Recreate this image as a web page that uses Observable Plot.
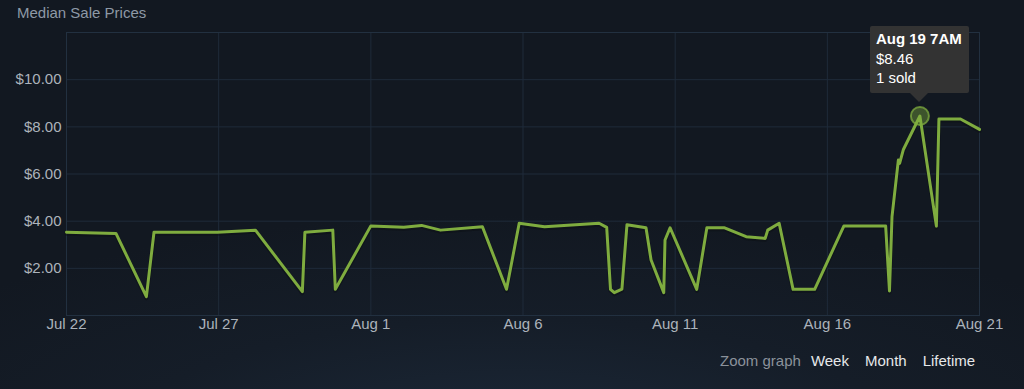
<!DOCTYPE html>
<html>
<head>
<meta charset="utf-8">
<script src="https://cdn.jsdelivr.net/npm/d3@7"></script>
<script src="https://cdn.jsdelivr.net/npm/@observablehq/plot@0.6"></script>
<style>
  html, body { margin: 0; padding: 0; }
  body {
    width: 1024px; height: 389px; overflow: hidden; position: relative;
    font-family: Arial, "Liberation Sans", sans-serif;
    background: radial-gradient(ellipse 70% 60% at 50% 115%, #1c2939 0%, #151d28 55%, #121821 100%);
  }
  #chart { position: absolute; left: 0; top: 0; }
  .title { position: absolute; left: 17px; top: 4px; font-size: 15px; color: #8e99a6; }
  .zoom { position: absolute; top: 352px; left: 720px; font-size: 15px; white-space: nowrap; }
  .zoom span { margin-right: 16px; color: #e6e8ea; }
  .zoom span.lbl { color: #8b929b; margin-right: 10px; }
  .tip {
    position: absolute; width: 99px; height: 67px; box-sizing: border-box;
    background: #333333; color: #ffffff; font-size: 15px; line-height: 19.5px;
    padding: 3px 0 0 6px; border-radius: 2px;
  }
  .tip b { font-weight: bold; }
  .tip:after {
    content: ""; position: absolute; left: 50%; bottom: -9px; margin-left: -9px;
    border-left: 9px solid transparent; border-right: 9px solid transparent; border-top: 9px solid #333333;
  }
</style>
</head>
<body>
<div id="chart"></div>
<div class="title">Median Sale Prices</div>
<div class="zoom"><span class="lbl">Zoom graph</span><span>Week</span><span>Month</span><span>Lifetime</span></div>
<script>
const dates = [
  "2019-07-22T00:00Z","2019-07-23T15:00Z","2019-07-24T15:00Z","2019-07-24T21:00Z","2019-07-26T23:00Z",
  "2019-07-28T05:00Z","2019-07-29T18:00Z","2019-07-29T20:00Z","2019-07-30T18:00Z","2019-07-30T20:00Z",
  "2019-08-01T00:00Z","2019-08-02T02:00Z","2019-08-02T16:00Z","2019-08-03T07:00Z","2019-08-04T16:00Z",
  "2019-08-05T11:00Z","2019-08-05T21:00Z","2019-08-06T17:00Z","2019-08-08T12:00Z","2019-08-08T18:00Z",
  "2019-08-08T21:00Z","2019-08-09T00:00Z","2019-08-09T06:00Z","2019-08-09T10:00Z","2019-08-10T01:00Z",
  "2019-08-10T05:00Z","2019-08-10T15:00Z","2019-08-10T16:00Z","2019-08-10T20:00Z","2019-08-11T17:00Z",
  "2019-08-12T01:00Z","2019-08-12T15:00Z","2019-08-13T08:00Z","2019-08-13T23:00Z","2019-08-14T01:00Z",
  "2019-08-14T10:00Z","2019-08-14T21:00Z","2019-08-15T14:00Z","2019-08-16T13:00Z","2019-08-17T22:00Z",
  "2019-08-18T01:00Z","2019-08-18T03:00Z","2019-08-18T08:00Z","2019-08-18T09:00Z","2019-08-18T12:00Z",
  "2019-08-19T01:00Z","2019-08-19T14:00Z","2019-08-19T16:00Z","2019-08-20T09:00Z","2019-08-21T00:00Z"
];
const prices = [
  3.53, 3.48, 0.80, 3.53, 3.53,
  3.62, 1.01, 3.53, 3.62, 1.11,
  3.80, 3.74, 3.82, 3.62, 3.76,
  1.11, 3.91, 3.76, 3.91, 3.74,
  1.11, 0.97, 1.12, 3.85, 3.72,
  2.35, 0.97, 3.20, 3.72, 1.11,
  3.72, 3.72, 3.34, 3.27, 3.62,
  3.91, 1.11, 1.11, 3.79, 3.79,
  1.04, 4.19, 6.59, 6.45, 7.04,
  8.46, 3.79, 8.33, 8.33, 7.89
];
const xTickLabels = ["2019-07-22","2019-07-27","2019-08-01","2019-08-06","2019-08-11","2019-08-16","2019-08-21"];
const yTicks = [2, 4, 6, 8, 10];
const xDomain = ["2019-07-22T00:00Z", "2019-08-21T00:00Z"];
const yDomain = [0, 12];
const highlight = { date: "2019-08-19T01:00Z", price: 8.46, label: "Aug 19 7AM", sold: "1 sold" };

const data = dates.map((d, i) => ({ date: new Date(d), price: prices[i] }));
const xTicks = xTickLabels.map(d => new Date(d + "T00:00Z"));
const hl = [{ date: new Date(highlight.date), price: highlight.price }];

const gridColor = "#1f2b3a";
const green = "#7fac3f";

const chart = Plot.plot({
  width: 1024,
  height: 389,
  marginLeft: 66,
  marginTop: 32,
  marginRight: 45,
  marginBottom: 74,
  style: { background: "transparent", fontFamily: "Arial, 'Liberation Sans', sans-serif", fontSize: "15px", color: "#acb3bb" },
  x: { type: "utc", domain: xDomain.map(d => new Date(d)), label: null },
  y: { domain: yDomain, label: null },
  marks: [
    Plot.gridY(yTicks, { stroke: gridColor, strokeOpacity: 1 }),
    Plot.gridX(xTicks, { stroke: gridColor, strokeOpacity: 1 }),
    Plot.frame({ stroke: "#223040" }),
    Plot.axisY(yTicks, { tickSize: 0, tickPadding: 5, tickFormat: d => "$" + d.toFixed(2), fill: "#acb3bb", fontSize: 15, label: null }),
    Plot.axisX(xTicks, { tickSize: 0, tickPadding: 3, tickFormat: d3.utcFormat("%b %-d"), fill: "#acb3bb", fontSize: 15, label: null }),
    Plot.line(data, { x: "date", y: "price", stroke: "#0b0f14", strokeOpacity: 0.5, strokeWidth: 4, dy: 1.5, strokeLinejoin: "round" }),
    Plot.line(data, { x: "date", y: "price", stroke: green, strokeWidth: 3, strokeLinejoin: "round", strokeLinecap: "round" }),
    Plot.dot(hl, { x: "date", y: "price", r: 9, fill: green, fillOpacity: 0.4, stroke: green, strokeOpacity: 0.75, strokeWidth: 2 })
  ]
});
document.getElementById("chart").appendChild(chart);

// tooltip positioned through the plot's own scales
const px = chart.scale("x").apply(new Date(highlight.date));
const py = chart.scale("y").apply(highlight.price);
const tip = document.createElement("div");
tip.className = "tip";
tip.innerHTML = `<b>${highlight.label}</b><br>$${highlight.price.toFixed(2)}<br>${highlight.sold}`;
tip.style.left = (px - 49.5) + "px";
tip.style.top = (py - 89) + "px";
document.body.appendChild(tip);
</script>
</body>
</html>
